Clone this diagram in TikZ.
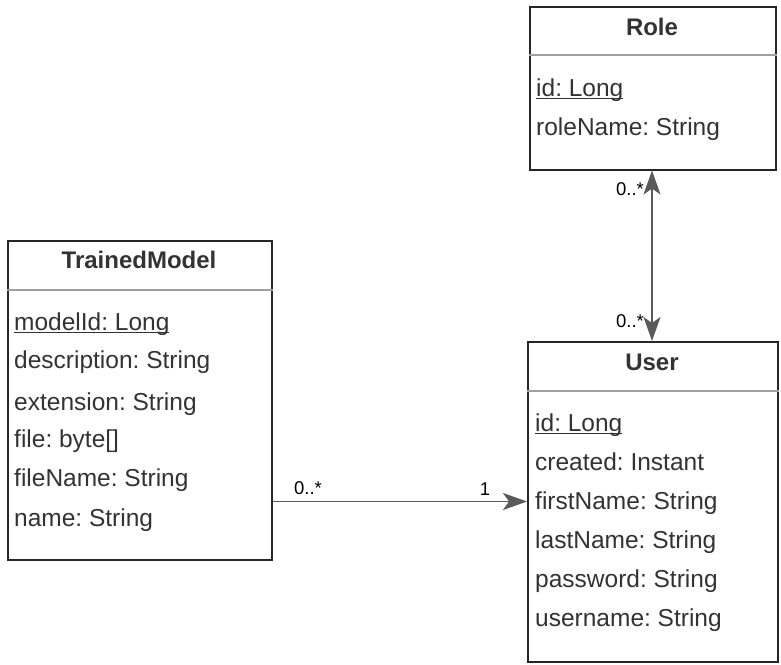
\documentclass[tikz,border=0pt]{standalone}
\usepackage{fontspec}
\setmainfont{Liberation Sans}
\usetikzlibrary{arrows.meta}
\definecolor{txt}{HTML}{333333}
\definecolor{sepc}{HTML}{A0A0A0}
\definecolor{arr}{HTML}{5A5A5A}
\frenchspacing
\newcommand\myul[1]{\setbox0\hbox{#1}\rlap{\color{txt}\rule[-2.6pt]{\wd0}{1.3pt}}\box0}
\begin{document}
\begin{tikzpicture}[x=1pt,y=-1pt,
  cls/.style={draw=black!85, line width=1.5pt, fill=white, anchor=north west, inner sep=0pt},
  ttl/.style={anchor=base, font=\fontsize{24}{28}\selectfont\bfseries, text=txt, inner sep=0pt},
  attr/.style={anchor=base west, font=\fontsize{24.5}{29}\selectfont, text=txt, inner sep=0pt},
  mult/.style={font=\fontsize{18.5}{21}\selectfont, text=black, inner sep=0pt},
  sepline/.style={draw=sepc, line width=1.5pt},
  assoc/.style={draw=arr, line width=1.5pt},
  htip/.tip={Stealth[length=24pt,width=17pt,inset=6pt]}]
\useasboundingbox (0,0) rectangle (781,664);
% Role
\node[cls, minimum width=246pt, minimum height=163pt] (role) at (529,6) {};
\draw[sepline] ([yshift=-49pt]role.north west) -- ([yshift=-49pt]role.north east);
\node[ttl] (roleT) at (652,35) {Role};
\node[attr] (roleA1) at (536,96.5) {\myul{id: Long}};
\node[attr] (roleA2) at (536,135) {roleName: String};
% TrainedModel
\node[cls, minimum width=264pt, minimum height=319pt] (tm) at (7,240) {};
\draw[sepline] ([yshift=-50pt]tm.north west) -- ([yshift=-50pt]tm.north east);
\node[ttl] (tmT) at (139,268.5) {TrainedModel};
\node[attr] (tmA1) at (14,330.5) {\myul{modelId: Long}};
\node[attr] (tmA2) at (14,368.5) {description: String};
\node[attr] (tmA3) at (14,410) {extension: String};
\node[attr] (tmA4) at (14,447.5) {file: byte[]};
\node[attr] (tmA5) at (14,486.7) {fileName: String};
\node[attr] (tmA6) at (14,526.7) {name: String};
% User
\node[cls, minimum width=250pt, minimum height=320pt] (user) at (527,341) {};
\draw[sepline] ([yshift=-50pt]user.north west) -- ([yshift=-50pt]user.north east);
\node[ttl] (userT) at (652,370) {User};
\node[attr] (uA1) at (535,431.7) {\myul{id: Long}};
\node[attr] (uA2) at (535,470.3) {created: Instant};
\node[attr] (uA3) at (535,509.5) {firstName: String};
\node[attr] (uA4) at (535,548.3) {lastName: String};
\node[attr] (uA5) at (535,587) {password: String};
\node[attr] (uA6) at (535,626) {username: String};
% connectors
\draw[assoc, htip-htip, fill=arr] (role.south -| 652,0) -- (user.north -| 652,0);
\draw[assoc, -htip, fill=arr] (tm.east |- 0,501.5) -- (user.west |- 0,501.5);
\node[mult] (m1) at (630,189) {0..*};
\node[mult] (m2) at (630,321) {0..*};
\node[mult] (m3) at (308,488) {0..*};
\node[mult] (m4) at (485,489) {1};
\end{tikzpicture}
\end{document}
